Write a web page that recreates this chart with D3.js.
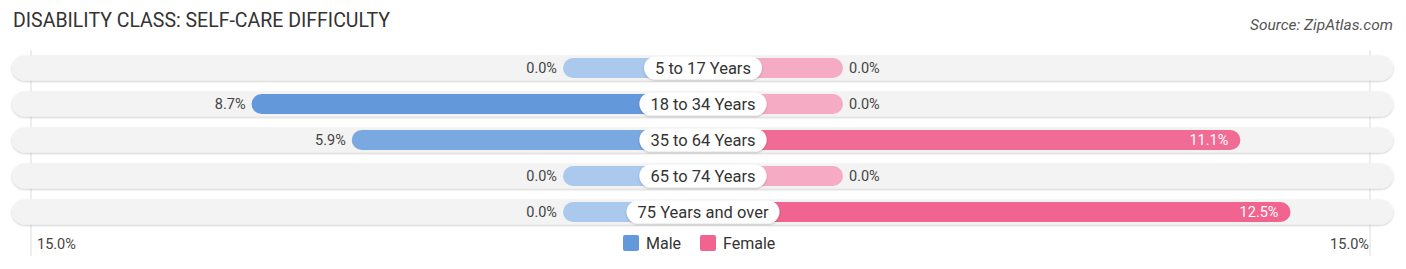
<!DOCTYPE html>
<html>
<head>
<meta charset="utf-8">
<script src="https://cdn.jsdelivr.net/npm/d3@7"></script>
<style>
  html, body { margin: 0; padding: 0; background: #fff; }
  svg { display: block; font-family: Roboto, "Open Sans", sans-serif; }
</style>
</head>
<body>
<svg id="chart" width="1406" height="269"></svg>
<script>
// values in percent
const groups = ["5 to 17 Years", "18 to 34 Years", "35 to 64 Years", "65 to 74 Years", "75 Years and over"];
const male = [0.0, 8.7, 5.9, 0.0, 0.0];
const female = [0.0, 0.0, 11.1, 0.0, 12.5];
const axisMax = 15;
const axisLabels = ["15.0%", "15.0%"];

const cx = 703, labelGap = 140;
const rowTop = 68, rowStep = 36;
const svg = d3.select("#chart");

const defs = svg.append("defs");
const sh = defs.append("filter").attr("id", "sh").attr("x", "-5%").attr("y", "-30%").attr("width", "110%").attr("height", "170%");
sh.append("feDropShadow").attr("dx", 0).attr("dy", 1).attr("stdDeviation", 1.2).attr("flood-color", "#000").attr("flood-opacity", 0.22);

const x = d3.scaleLinear().domain([0, axisMax]).range([0, 537]);
const y = d3.scalePoint().domain(groups).range([rowTop, rowTop + rowStep * (groups.length - 1)]);

// shade deepens with value, per series
const maleCol = d3.scaleLinear().domain([0, d3.max(male)]).range(["#aac9ec", "#6399da"]);
const femCol = d3.scaleLinear().domain([0, d3.max(female)]).range(["#f6abc5", "#f0648f"]);

// title / source
svg.append("text").attr("x", 13).attr("y", 27).attr("font-size", 19.5).attr("fill", "#333")
  .text("DISABILITY CLASS: SELF-CARE DIFFICULTY");
svg.append("text").attr("x", 1393).attr("y", 30).attr("text-anchor", "end").attr("font-size", 15.5)
  .attr("font-style", "italic").attr("fill", "#555").text("Source: ZipAtlas.com");

// axis guide lines
[cx - labelGap - x(axisMax) + 5, cx + labelGap + x(axisMax) - 10].forEach(lx =>
  svg.append("line").attr("x1", lx).attr("x2", lx).attr("y1", 50).attr("y2", 256)
    .attr("stroke", "#ddd").attr("stroke-width", 1));

const rows = svg.append("g");
groups.forEach((g, i) => {
  const cy = y(g);
  rows.append("rect").attr("x", 12).attr("y", cy - 12.5).attr("width", 1381).attr("height", 25)
    .attr("rx", 12.5).attr("fill", "#f3f3f3").attr("filter", "url(#sh)");

  const mw = labelGap + x(male[i]);
  rows.append("rect").attr("x", cx - mw).attr("y", cy - 10).attr("width", mw).attr("height", 20)
    .attr("rx", 10).attr("fill", maleCol(male[i]));
  const fw = labelGap + x(female[i]);
  rows.append("rect").attr("x", cx).attr("y", cy - 10).attr("width", fw).attr("height", 20)
    .attr("rx", 10).attr("fill", femCol(female[i]));

  // value labels
  rows.append("text").attr("x", cx - mw - 6).attr("y", cy + 5).attr("text-anchor", "end")
    .attr("font-size", 14.5).attr("fill", "#444").text(male[i].toFixed(1) + "%");
  if (female[i] > 3) {
    rows.append("text").attr("x", cx + fw - 12).attr("y", cy + 5).attr("text-anchor", "end")
      .attr("font-size", 14.5).attr("fill", "#fff").text(female[i].toFixed(1) + "%");
  } else {
    rows.append("text").attr("x", cx + fw + 6).attr("y", cy + 5)
      .attr("font-size", 14.5).attr("fill", "#444").text(female[i].toFixed(1) + "%");
  }

  // center label pill
  const t = rows.append("text").attr("x", cx).attr("y", cy + 6).attr("text-anchor", "middle")
    .attr("font-size", 16.5).attr("fill", "#333").text(g);
  const tw = t.node().getComputedTextLength();
  rows.insert("rect", () => t.node()).attr("x", cx - tw / 2 - 11).attr("y", cy - 11.5)
    .attr("width", tw + 22).attr("height", 23).attr("rx", 11.5).attr("fill", "#fff").attr("filter", "url(#sh)");
});

// bottom axis labels
svg.append("text").attr("x", 37).attr("y", 249).attr("font-size", 14.5).attr("fill", "#444").text(axisLabels[0]);
svg.append("text").attr("x", 1369).attr("y", 249).attr("text-anchor", "end").attr("font-size", 14.5).attr("fill", "#444").text(axisLabels[1]);

// legend
const legend = [{ k: "Male", c: "#6399da", x: 623 }, { k: "Female", c: "#f0648f", x: 700 }];
legend.forEach(d => {
  svg.append("rect").attr("x", d.x).attr("y", 235).attr("width", 16).attr("height", 16).attr("rx", 2).attr("fill", d.c);
  svg.append("text").attr("x", d.x + 23).attr("y", 249).attr("font-size", 16).attr("fill", "#333").text(d.k);
});
</script>
</body>
</html>
